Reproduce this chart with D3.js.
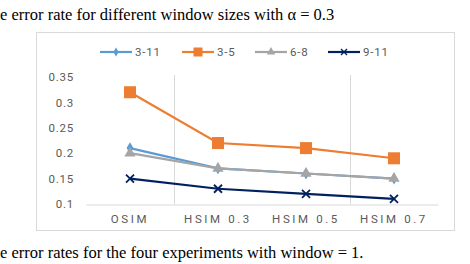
<!DOCTYPE html>
<html lang="en">
<head>
<meta charset="utf-8">
<script src="https://cdn.jsdelivr.net/npm/d3@7"></script>
<style>
	body { margin: 0; background: #fff; }
	.cap { font-family: "Liberation Serif", serif; font-size: 16.5px; fill: #000; }
	.tick text, .lab { font-family: Roboto, "DejaVu Sans", sans-serif; font-size: 11.5px; fill: #595959; letter-spacing: 0.8px; }
</style>
</head>
<body>
<script>
var categories = ["OSIM", "HSIM 0.3", "HSIM 0.5", "HSIM 0.7"];
var seriesNames = ["3-11", "3-5", "6-8", "9-11"];
var s3_11 = [0.21, 0.17, 0.16, 0.15];
var s3_5 = [0.32, 0.22, 0.21, 0.19];
var s6_8 = [0.20, 0.17, 0.16, 0.15];
var s9_11 = [0.15, 0.13, 0.12, 0.11];
var yTicks = [0.1, 0.15, 0.2, 0.25, 0.3, 0.35];

var w = 470, h = 264;
var svg = d3.select("body").append("svg").attr("width", w).attr("height", h);

svg.append("text").attr("class", "cap").attr("x", 0).attr("y", 20)
	.text("e error rate for different window sizes with \u03b1 = 0.3");
svg.append("text").attr("class", "cap").attr("x", 0).attr("y", 258)
	.text("e error rates for the four experiments with window  = 1.");

// chart frame
svg.append("rect").attr("x", 36.5).attr("y", 32.5).attr("width", 418).attr("height", 198)
	.attr("fill", "none").attr("stroke", "#d9d9d9");

var x = d3.scaleBand().domain(categories).range([86, 438]);
var y = d3.scaleLinear().domain([0.1, 0.35]).range([204, 77]);

// separators at category boundaries
[1, 3].forEach(function(i){
	var xx = Math.round(x(categories[i])) + 0.5;
	svg.append("line").attr("x1", xx).attr("x2", xx).attr("y1", 75).attr("y2", 204)
		.attr("stroke", "#d9d9d9");
});

var yAxis = svg.append("g").attr("transform", "translate(74,0)")
	.call(d3.axisLeft(y).tickValues(yTicks).tickSize(0).tickPadding(0)
		.tickFormat(function(d){ return String(+d.toFixed(2)); }));
yAxis.select(".domain").remove();

var xAxis = svg.append("g").attr("transform", "translate(0,204.5)")
	.call(d3.axisBottom(x).tickSize(0).tickPadding(10));
xAxis.select(".domain").attr("stroke", "#d9d9d9");
xAxis.selectAll("text").style("letter-spacing", "2.6px");

var series = [
	{ name: seriesNames[0], values: s3_11, color: "#5b9bd5", marker: "diamond" },
	{ name: seriesNames[1], values: s3_5, color: "#ed7d31", marker: "square" },
	{ name: seriesNames[2], values: s6_8, color: "#a5a5a5", marker: "triangle" },
	{ name: seriesNames[3], values: s9_11, color: "#002060", marker: "cross" }
];

var line = d3.line()
	.x(function(d, i){ return x(categories[i]) + x.bandwidth() / 2; })
	.y(function(d){ return y(d); });

function marker(g, type, color, cx, cy, k){
	if (type === "diamond") {
		g.append("path").attr("d", d3.symbol(d3.symbolDiamond, 40 * k * k)()).attr("fill", color)
			.attr("transform", "translate(" + cx + "," + cy + ")");
	} else if (type === "square") {
		g.append("rect").attr("x", cx - 6 * k).attr("y", cy - 6 * k).attr("width", 12 * k).attr("height", 12 * k).attr("fill", color);
	} else if (type === "triangle") {
		g.append("path").attr("d", d3.symbol(d3.symbolTriangle, 55 * k * k)()).attr("fill", color)
			.attr("transform", "translate(" + cx + "," + cy + ")");
	} else {
		g.append("path").attr("d", "M-4,-4L4,4M-4,4L4,-4").attr("stroke", color).attr("stroke-width", 1.8)
			.attr("transform", "translate(" + cx + "," + cy + ") scale(" + k + ")");
	}
}

// draw 6-8 last so 3-11 sits beneath it as in the picture
[series[0], series[1], series[3], series[2]].forEach(function(s){
	var g = svg.append("g");
	g.append("path").datum(s.values).attr("d", line).attr("fill", "none")
		.attr("stroke", s.color).attr("stroke-width", 2.2);
	s.values.forEach(function(v, i){
		marker(g, s.marker, s.color, x(categories[i]) + x.bandwidth() / 2, y(v), 1);
	});
});

// legend
var legX = [100, 182, 255, 328];
series.forEach(function(s, i){
	var g = svg.append("g");
	g.append("line").attr("x1", legX[i]).attr("x2", legX[i] + 32).attr("y1", 52).attr("y2", 52)
		.attr("stroke", s.color).attr("stroke-width", 2.2);
	marker(g, s.marker, s.color, legX[i] + 16, 52, 0.75);
	g.append("text").attr("class", "lab").attr("x", legX[i] + 35).attr("y", 56).text(s.name);
});
</script>
</body>
</html>
